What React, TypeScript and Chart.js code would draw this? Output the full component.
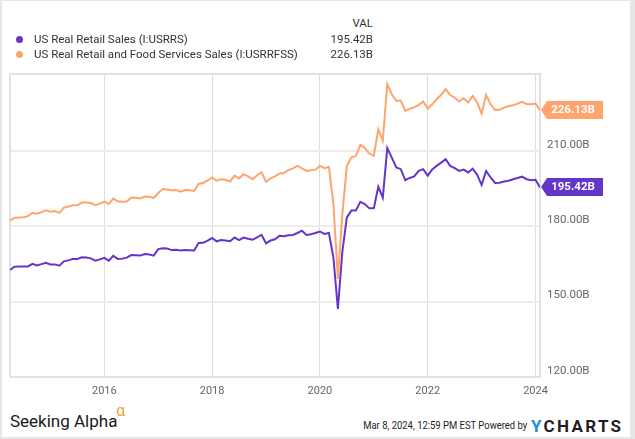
import React, { useEffect, useRef } from 'react';
import { Chart, registerables } from 'chart.js';

Chart.register(...registerables);

// Monthly data, month-end, starting March 2014 and ending January 2024
const START_YEAR = 2014;
const START_MONTH = 3;

// US Real Retail and Food Services Sales (billions)
const foodServicesSales = [
  182.2, 183.4, 183.5, 183.6, 184.0, 185.3, 185.0, 185.6, 186.3, 185.8,
  186.0, 185.3, 187.4, 187.8, 188.3, 188.4, 189.4, 189.4, 189.2, 188.4,
  189.0, 189.8, 188.8, 191.0, 189.9, 189.7, 189.8, 191.4, 191.3, 191.0,
  191.8, 191.7, 191.2, 193.2, 194.8, 194.6, 194.3, 194.4, 193.7, 194.4,
  194.3, 194.0, 196.8, 197.2, 198.2, 199.4, 198.1, 198.7, 198.5, 197.8,
  200.1, 199.0, 200.7, 199.8, 198.7, 200.3, 201.4, 197.7, 199.0, 199.8,
  201.0, 201.2, 202.3, 203.0, 204.0, 203.0, 202.0, 202.3, 202.5, 204.0,
  203.1, 203.6, 188.8, 159.0, 185.0, 204.0, 207.3, 208.0, 212.4, 211.1,
  208.9, 208.0, 218.6, 214.0, 236.6, 232.5, 229.9, 230.0, 225.9, 226.8,
  227.3, 228.3, 229.6, 226.8, 228.5, 230.5, 232.3, 234.5, 232.2, 231.2,
  229.6, 230.9, 229.2, 231.8, 229.2, 224.8, 232.2, 228.5, 226.2, 226.3,
  227.2, 227.8, 228.1, 228.8, 229.5, 228.6, 228.5, 228.8, 226.13,
];

// US Real Retail Sales (billions)
const retailSales = [
  162.6, 163.9, 164.0, 164.0, 164.0, 165.0, 164.4, 164.9, 165.4, 164.8,
  164.8, 164.3, 166.0, 166.4, 167.0, 167.0, 167.6, 167.5, 167.2, 166.3,
  166.8, 167.4, 166.3, 168.2, 167.0, 167.1, 167.5, 168.5, 168.4, 168.3,
  168.9, 168.7, 168.3, 170.9, 171.2, 171.1, 170.5, 170.6, 170.3, 170.5,
  170.4, 170.3, 173.3, 173.4, 174.3, 175.3, 174.0, 174.5, 174.3, 174.0,
  175.5, 174.5, 175.5, 175.0, 174.6, 175.6, 176.6, 173.2, 174.3, 174.8,
  176.2, 176.0, 176.4, 176.5, 177.3, 178.2, 176.5, 176.8, 177.3, 177.9,
  176.9, 177.3, 167.6, 147.1, 170.0, 183.5, 186.2, 186.2, 189.7, 188.8,
  187.1, 187.1, 195.7, 191.4, 211.1, 207.3, 203.4, 202.7, 198.3, 199.2,
  199.8, 202.0, 202.7, 200.1, 202.6, 204.0, 205.3, 206.7, 204.0, 203.1,
  202.0, 202.5, 201.4, 202.9, 200.5, 196.4, 202.0, 199.4, 197.2, 197.3,
  197.8, 198.1, 198.7, 199.2, 199.7, 198.7, 198.3, 198.5, 195.42,
];

const seriesNames = [
  'US Real Retail Sales (I:USRRS)',
  'US Real Retail and Food Services Sales (I:USRRFSS)',
];
const seriesValues = [retailSales, foodServicesSales];
const seriesColors = ['#6435c9', '#ffa46c'];
const lastLabels = ['195.42B', '226.13B'];

const xTickValues = [2016, 2018, 2020, 2022, 2024];
const yTickValues = [120, 150, 180, 210];
const X_MIN = 2014.25;
const X_MAX = 2024.0833;
const Y_MIN = 120;
const Y_MAX = 240.6;

const FONT = 'Roboto, "Noto Sans", sans-serif';

const toPoints = (vals: number[]) =>
  vals.map((v, i) => ({ x: START_YEAR + (START_MONTH + i) / 12, y: v }));

const framePlugin = {
  id: 'frame',
  beforeDatasetsDraw(chart: any) {
    const { ctx, chartArea: a } = chart;
    ctx.save();
    ctx.strokeStyle = '#e2e2e2';
    ctx.lineWidth = 2;
    ctx.strokeRect(a.left, a.top, a.right - a.left, a.bottom - a.top);
    ctx.restore();
  },
};

const badgePlugin = {
  id: 'badges',
  afterDraw(chart: any) {
    const { ctx, chartArea: a } = chart;
    const ys = chart.scales.y;
    chart.data.datasets.forEach((ds: any, idx: number) => {
      const last = ds.data[ds.data.length - 1].y;
      const py = Math.round(ys.getPixelForValue(last));
      const x0 = a.right + 1;
      ctx.save();
      ctx.fillStyle = ds.borderColor;
      ctx.beginPath();
      ctx.moveTo(x0, py);
      ctx.lineTo(x0 + 6, py - 9);
      ctx.lineTo(x0 + 62, py - 9);
      ctx.lineTo(x0 + 62, py + 9);
      ctx.lineTo(x0 + 6, py + 9);
      ctx.closePath();
      ctx.fill();
      ctx.fillStyle = '#ffffff';
      ctx.font = `bold 11.5px ${FONT}`;
      ctx.textAlign = 'center';
      ctx.textBaseline = 'middle';
      ctx.fillText(lastLabels[idx], x0 + 32, py + 0.5);
      ctx.restore();
    });
  },
};

function ChartCanvas() {
  const ref = useRef<HTMLCanvasElement | null>(null);
  useEffect(() => {
    if (!ref.current) return;
    const chart = new Chart(ref.current, {
      type: 'line',
      data: {
        datasets: seriesValues.map((vals, i) => ({
          label: seriesNames[i],
          data: toPoints(vals),
          borderColor: seriesColors[i],
          backgroundColor: seriesColors[i],
          borderWidth: 2,
          pointRadius: 0,
          tension: 0,
          fill: false,
        })),
      },
      options: {
        animation: false,
        responsive: false,
        maintainAspectRatio: false,
        events: [],
        layout: { padding: { left: 10, top: 13, right: 0, bottom: 0 } },
        plugins: {
          legend: { display: false },
          tooltip: { enabled: false },
          title: { display: false },
        },
        scales: {
          x: {
            type: 'linear',
            min: X_MIN,
            max: X_MAX,
            afterBuildTicks: (s: any) => {
              s.ticks = xTickValues.map((v) => ({ value: v }));
            },
            afterFit: (s: any) => {
              s.height = 28;
            },
            ticks: {
              callback: (v: any) => String(v),
              color: '#666666',
              font: { family: FONT, size: 11 },
              padding: 8,
              maxRotation: 0,
              autoSkip: false,
            },
            grid: { color: '#dddddd', lineWidth: 1, drawTicks: false },
            border: { display: false },
          },
          y: {
            type: 'linear',
            position: 'right',
            min: Y_MIN,
            max: Y_MAX,
            afterBuildTicks: (s: any) => {
              s.ticks = yTickValues.map((v) => ({ value: v }));
            },
            afterFit: (s: any) => {
              s.width = 95;
            },
            ticks: {
              callback: (v: any) => Number(v).toFixed(2) + 'B',
              color: '#666666',
              font: { family: FONT, size: 11.5 },
              padding: 7,
              labelOffset: -6,
            },
            grid: { color: '#ececec', lineWidth: 2, drawTicks: false },
            border: { display: false },
          },
        },
      },
      plugins: [framePlugin, badgePlugin],
    } as any);
    return () => chart.destroy();
  }, []);
  return (
    <canvas
      ref={ref}
      width={635}
      height={345}
      style={{ position: 'absolute', left: 0, top: 60, width: 635, height: 345 }}
    />
  );
}

export default function App() {
  useEffect(() => {
    document.body.style.margin = '0';
  }, []);
  const textBase: React.CSSProperties = {
    position: 'absolute',
    fontFamily: FONT,
    color: '#333333',
    whiteSpace: 'nowrap',
    lineHeight: '16px',
    height: 16,
  };
  const rowY = [39, 54];
  return (
    <div
      style={{
        position: 'relative',
        width: 635,
        height: 439,
        background: '#ffffff',
        overflow: 'hidden',
      }}
    >
      <ChartCanvas />
      {/* legend */}
      <div style={{ ...textBase, fontSize: 11.5, right: 635 - 373, top: 23 - 8 }}>VAL</div>
      {seriesNames.map((name, i) => (
        <React.Fragment key={name}>
          <div
            style={{
              position: 'absolute',
              left: 16,
              top: rowY[i] - 3.5,
              width: 7,
              height: 7,
              borderRadius: '50%',
              background: seriesColors[i],
            }}
          />
          <div style={{ ...textBase, fontSize: 11.5, left: 34, top: rowY[i] - 8 }}>{name}</div>
          <div style={{ ...textBase, fontSize: 11.5, right: 635 - 373, top: rowY[i] - 8 }}>
            {lastLabels[i]}
          </div>
        </React.Fragment>
      ))}
      {/* footer */}
      <div
        style={{
          ...textBase,
          fontSize: 17,
          lineHeight: '20px',
          height: 20,
          left: 10,
          top: 411,
          color: '#1a1a1a',
        }}
      >
        Seeking Alpha
      </div>
      <div
        style={{
          ...textBase,
          fontSize: 16,
          lineHeight: '16px',
          left: 116,
          top: 403,
          color: '#f5a031',
        }}
      >
        α
      </div>
      <div
        style={{
          ...textBase,
          fontSize: 10.5,
          lineHeight: '14px',
          height: 14,
          right: 635 - 527,
          top: 419,
          color: '#222222',
          transform: 'scaleX(0.9)',
          transformOrigin: 'right center',
        }}
      >
        Mar 8, 2024, 12:59 PM EST Powered by
      </div>
      <div
        style={{
          ...textBase,
          fontSize: 17,
          lineHeight: '20px',
          height: 20,
          left: 531,
          top: 416,
          fontWeight: 700,
          letterSpacing: '2.3px',
          color: '#1f1f1f',
        }}
      >
        <span style={{ color: '#1c8ee0' }}>Y</span>CHARTS
      </div>
      {/* outer frame */}
      <div
        style={{
          position: 'absolute',
          left: 0,
          top: 0,
          width: 635,
          height: 439,
          boxSizing: 'border-box',
          borderStyle: 'solid',
          borderColor: '#e6e6e6',
          borderWidth: '1px 5px 2px 2px',
          pointerEvents: 'none',
        }}
      />
    </div>
  );
}
